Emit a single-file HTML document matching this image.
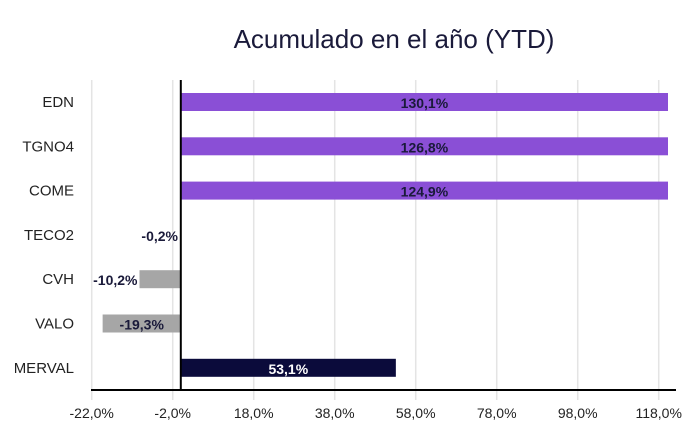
<!DOCTYPE html>
<html><head><meta charset="utf-8"><style>
body{margin:0;background:#fff;font-family:"Liberation Sans",sans-serif}
</style></head><body>
<svg id="c" width="697" height="436">
<text x="394" y="48" text-anchor="middle" font-size="26" fill="#1a1a3a">Acumulado en el año (YTD)</text>
<g id="grid"></g><g id="bars"></g><g id="labels"></g>
</svg>
<script>
const categories=["EDN","TGNO4","COME","TECO2","CVH","VALO","MERVAL"];
const values=[130.1,126.8,124.9,-0.2,-10.2,-19.3,53.1];
const valueLabels=["130,1%","126,8%","124,9%","-0,2%","-10,2%","-19,3%","53,1%"];
const ticks=[-22,-2,18,38,58,78,98,118];
const tickLabels=["-22,0%","-2,0%","18,0%","38,0%","58,0%","78,0%","98,0%","118,0%"];
const NS="http://www.w3.org/2000/svg";
const x0=180.8,k=4.05,xMax=668,xMin=91;
const X=v=>Math.max(xMin,Math.min(xMax,x0+v*k));
const Y=i=>102+i*44.3;
function el(t,a,p){const e=document.createElementNS(NS,t);for(const n in a)e.setAttribute(n,a[n]);document.getElementById(p).appendChild(e);return e;}
ticks.forEach((t,i)=>{
 const g=el("line",{x1:X(t),x2:X(t),y1:80,y2:400,stroke:"#e4e4e4","stroke-width":1.5},"grid");
 
 
 const l=el("text",{x:X(t),y:418,"text-anchor":"middle","font-size":14,fill:"#222"},"labels");
 l.textContent=tickLabels[i];
 
 
});
const ax=el("line",{x1:91,x2:676,y1:390,y2:390,stroke:"#000","stroke-width":2},"grid");


categories.forEach((c,i)=>{
 const v=values[i],y=Y(i);
 const col=c==="MERVAL"?"#0b0b3b":(v<0?"#a6a6a6":"#8a4fd6");
 const a=X(Math.min(0,v)),b=X(Math.max(0,v));
 const r=el("rect",{x:a,y:y-9,width:Math.max(0,b-a),height:18,fill:col},"bars");
 
 
 const cl=el("text",{x:74,y:y+5,"text-anchor":"end","font-size":15,fill:"#222"},"labels");
 cl.textContent=c;
 
 
 const w=b-a;let lx,anc;
 if(w>60){lx=(a+b)/2;anc="middle";}else{lx=a-2;anc="end";}
 const vl=el("text",{x:lx,y:y+6,"text-anchor":anc,"font-size":14,"font-weight":"bold",fill:c==="MERVAL"?"#fff":"#1a1a3a"},"labels");
 vl.textContent=valueLabels[i];
 
 
});
const z=el("line",{x1:x0,x2:x0,y1:80,y2:390,stroke:"#000","stroke-width":2},"labels");


</script>
</body></html>
